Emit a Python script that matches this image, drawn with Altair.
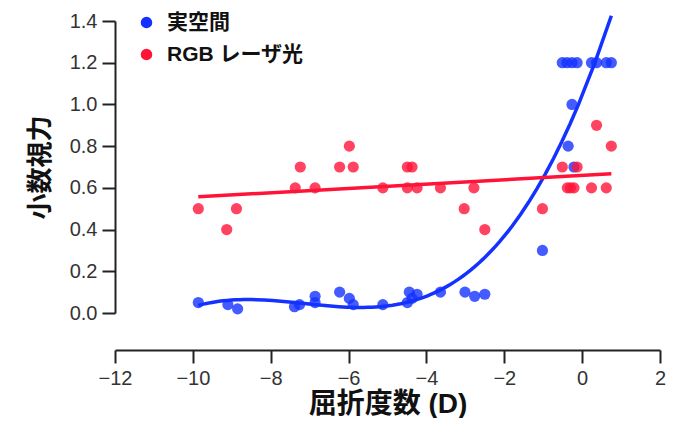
import altair as alt
import pandas as pd

series_names = ["実空間", "RGB レーザ光"]

blue_x = [-9.86, -9.10, -8.85, -7.39, -7.26, -6.86, -6.86, -6.23, -5.98, -5.88,
          -5.12, -4.49, -4.44, -4.24, -4.37, -3.64, -3.01, -2.76, -2.50, -1.02,
          -0.36, -0.21, -0.26, -0.51, -0.39, -0.26, -0.13, 0.24, 0.37, 0.62, 0.75]
blue_y = [0.05, 0.04, 0.02, 0.03, 0.04, 0.08, 0.05, 0.10, 0.07, 0.04,
          0.04, 0.05, 0.10, 0.09, 0.07, 0.10, 0.10, 0.08, 0.09, 0.30,
          0.80, 0.70, 1.00, 1.20, 1.20, 1.20, 1.20, 1.20, 1.20, 1.20, 1.20]

red_x = [-9.86, -9.13, -8.88, -7.37, -7.24, -6.86, -6.23, -5.98, -5.88, -5.12,
         -4.49, -4.37, -4.49, -4.24, -3.64, -3.03, -2.78, -2.50, -1.02, -0.51,
         -0.13, -0.38, -0.30, -0.21, 0.24, 0.62, 0.37, 0.75]
red_y = [0.5, 0.4, 0.5, 0.6, 0.7, 0.6, 0.7, 0.8, 0.7, 0.6,
         0.7, 0.7, 0.6, 0.6, 0.6, 0.5, 0.6, 0.4, 0.5, 0.7,
         0.7, 0.6, 0.6, 0.6, 0.6, 0.6, 0.9, 0.8]

x_ticks = [-12, -10, -8, -6, -4, -2, 0, 2]
y_ticks = [0.0, 0.2, 0.4, 0.6, 0.8, 1.0, 1.2, 1.4]

BLUE = "#1432ff"
RED = "#ff1438"

df = pd.concat([
    pd.DataFrame({"x": blue_x, "y": blue_y, "series": series_names[0]}),
    pd.DataFrame({"x": red_x, "y": red_y, "series": series_names[1]}),
], ignore_index=True)

FONT = "Liberation Sans, Noto Sans CJK JP"

x_enc = alt.X("x:Q", scale=alt.Scale(domain=[-12, 2], nice=False),
              axis=alt.Axis(values=x_ticks, title="屈折度数 (D)", offset=37,
                            format="d", titleFontSize=28, titlePadding=2,
                            labelFlush=False))
y_enc = alt.Y("y:Q", scale=alt.Scale(domain=[0, 1.4], nice=False),
              axis=alt.Axis(values=y_ticks, title="小数視力", format=".1f",
                            titleFontSize=26, titlePadding=16, labelFlush=False))

base = alt.Chart(df)

points = base.mark_circle(size=125, opacity=0.8).encode(
    x=x_enc, y=y_enc,
    color=alt.Color("series:N",
                    scale=alt.Scale(domain=series_names, range=[BLUE, RED]),
                    sort=series_names,
                    legend=alt.Legend(title=None, orient="none", legendX=21, legendY=-9,
                                      symbolType="circle", symbolSize=135,
                                      symbolOpacity=1, labelFontSize=21,
                                      labelFontWeight="bold", labelFont=FONT,
                                      labelColor="#111", rowPadding=10,
                                      symbolOffset=0, labelOffset=10, padding=0)),
    order=alt.Order("series:N", sort="descending"),
)

blue_line = base.transform_filter(
    alt.datum.series == series_names[0]
).transform_regression("x", "y", method="poly", order=3).mark_line(
    color=BLUE, strokeWidth=3.5
).encode(x="x:Q", y="y:Q")

red_line = base.transform_filter(
    alt.datum.series == series_names[1]
).transform_regression("x", "y", method="linear").mark_line(
    color=RED, strokeWidth=3.5
).encode(x="x:Q", y="y:Q")

chart = alt.layer(points, blue_line, red_line).properties(
    width=545, height=292,
    autosize=alt.AutoSizeParams(type="none"),
    padding={"left": 107, "top": 13, "right": 6, "bottom": 105},
).configure_view(stroke=None).configure_axis(
    grid=False,
    domainColor="#222", domainWidth=2,
    tickColor="#222", tickWidth=2, tickSize=13,
    labelFont=FONT, labelFontSize=20, labelColor="#333", labelPadding=5,
    titleFont=FONT, titleFontWeight="bold", titleColor="#111",
)

chart.save("out.html", embed_options={"renderer": "svg", "actions": False})
